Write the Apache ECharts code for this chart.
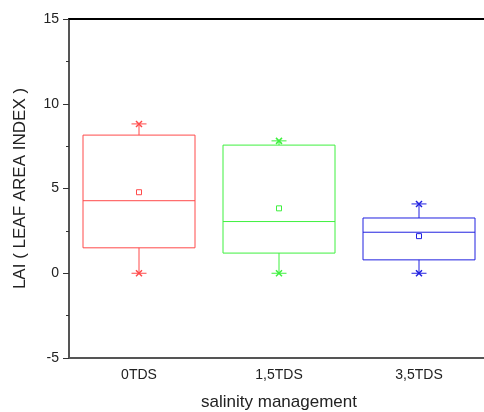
<!DOCTYPE html>
<html>
<head>
<meta charset="utf-8">
<script src="https://cdn.jsdelivr.net/npm/echarts@6/dist/echarts.min.js"></script>
<style>
  html, body { margin: 0; padding: 0; background: #fff; }
</style>
</head>
<body>
<div id="myChart" style="width: 484px; height: 412px;"></div>
<script>
var categories = ["0TDS", "1,5TDS", "3,5TDS"];
var minVals = [0, 0, 0];
var q1Vals = [1.5, 1.19, 0.79];
var medianVals = [4.28, 3.05, 2.42];
var q3Vals = [8.15, 7.56, 3.26];
var maxVals = [8.81, 7.81, 4.09];
var meanVals = [4.78, 3.83, 2.19];
var boxColors = ["#ff4a4a", "#3ef03e", "#2020e0"];

var boxData = categories.map(function (c, i) {
  return [i, minVals[i], q1Vals[i], medianVals[i], q3Vals[i], maxVals[i], meanVals[i]];
});

function renderBox(params, api) {
  var i = api.value(0);
  var color = boxColors[i];
  var center = api.coord([i, 0])[0];
  var half = api.size([1, 0])[0] * 0.4;
  var yMin = api.coord([i, api.value(1)])[1];
  var yQ1 = api.coord([i, api.value(2)])[1];
  var yMed = api.coord([i, api.value(3)])[1];
  var yQ3 = api.coord([i, api.value(4)])[1];
  var yMax = api.coord([i, api.value(5)])[1];
  var yMean = api.coord([i, api.value(6)])[1];
  var st = { stroke: color, lineWidth: 1, fill: null };
  var cap = 7.5;
  var children = [
    { type: "rect", shape: { x: center - half, y: yQ3, width: half * 2, height: yQ1 - yQ3 }, style: st },
    { type: "line", shape: { x1: center - half, y1: yMed, x2: center + half, y2: yMed }, style: st },
    { type: "line", shape: { x1: center, y1: yQ3, x2: center, y2: yMax }, style: st },
    { type: "line", shape: { x1: center, y1: yQ1, x2: center, y2: yMin }, style: st },
    { type: "rect", shape: { x: center - 2.5, y: yMean - 2.5, width: 5, height: 5 }, style: st }
  ];
  [yMax, yMin].forEach(function (y) {
    children.push({ type: "line", shape: { x1: center - cap, y1: y, x2: center + cap, y2: y }, style: st });
    children.push({ type: "line", shape: { x1: center - 3, y1: y - 3, x2: center + 3, y2: y + 3 }, style: { stroke: color, lineWidth: 1.5 } });
    children.push({ type: "line", shape: { x1: center - 3, y1: y + 3, x2: center + 3, y2: y - 3 }, style: { stroke: color, lineWidth: 1.5 } });
  });
  return { type: "group", children: children };
}

var myChart = echarts.init(document.getElementById("myChart"));
myChart.setOption({
  animation: false,
  textStyle: { fontFamily: "Liberation Sans, Arial, sans-serif" },
  grid: { left: 69, top: 19, width: 420, height: 339, outerBoundsMode: "none", containLabel: false },
  xAxis: [
    {
      type: "category",
      data: categories,
      name: "salinity management",
      nameLocation: "middle",
      nameGap: 36,
      nameTextStyle: { fontSize: 17, color: "#222" },
      axisLine: { onZero: false, lineStyle: { color: "#555", width: 2 } },
      axisTick: { alignWithLabel: true, length: 5, lineStyle: { color: "#333" } },
      axisLabel: { fontSize: 14, color: "#222", margin: 10 },
      splitLine: { show: false }
    },
    {
      type: "category",
      position: "top",
      data: categories,
      axisLine: { onZero: false, lineStyle: { color: "#000", width: 2 } },
      axisTick: { show: false },
      axisLabel: { show: false }
    }
  ],
  yAxis: {
    type: "value",
    min: -5,
    max: 15,
    interval: 5,
    name: "LAI ( LEAF AREA INDEX )",
    nameLocation: "middle",
    nameGap: 40,
    nameTextStyle: { fontSize: 17, color: "#222" },
    axisLine: { show: true, lineStyle: { color: "#555", width: 2 } },
    axisTick: { show: true, length: 6, lineStyle: { color: "#333" } },
    minorTick: { show: true, splitNumber: 2, length: 3, lineStyle: { color: "#333" } },
    axisLabel: { fontSize: 14, color: "#222", margin: 10 },
    splitLine: { show: false }
  },
  series: [
    {
      type: "custom",
      renderItem: renderBox,
      encode: { x: 0, y: [1, 5] },
      data: boxData
    }
  ]
});
</script>
</body>
</html>
